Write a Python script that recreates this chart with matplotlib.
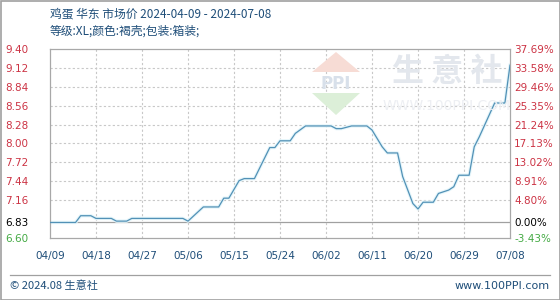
import matplotlib
matplotlib.use("Agg")
import matplotlib.pyplot as plt
import pandas as pd
from matplotlib.patches import Polygon, Rectangle

plt.rcParams['font.family'] = ['Noto Sans CJK SC', 'DejaVu Sans']

# ---- data ----
title = "鸡蛋 华东 市场价 2024-04-09 - 2024-07-08"
subtitle = "等级:XL;颜色:褐壳;包装:箱装;"
dates = ["2024-04-09", "2024-04-14", "2024-04-15", "2024-04-17", "2024-04-18",
         "2024-04-21", "2024-04-22", "2024-04-24", "2024-04-25", "2024-05-05",
         "2024-05-06", "2024-05-09", "2024-05-12", "2024-05-13", "2024-05-14",
         "2024-05-16", "2024-05-17", "2024-05-19", "2024-05-22", "2024-05-23",
         "2024-05-24", "2024-05-26", "2024-05-27", "2024-05-29", "2024-06-03",
         "2024-06-04", "2024-06-05", "2024-06-07", "2024-06-10", "2024-06-11",
         "2024-06-13", "2024-06-14", "2024-06-16", "2024-06-17", "2024-06-19",
         "2024-06-20", "2024-06-21", "2024-06-23", "2024-06-24", "2024-06-26",
         "2024-06-27", "2024-06-28", "2024-06-30", "2024-07-01", "2024-07-02",
         "2024-07-05", "2024-07-07", "2024-07-08"]
prices = [6.83, 6.83, 6.93, 6.93, 6.89,
          6.89, 6.85, 6.85, 6.89, 6.89,
          6.85, 7.06, 7.06, 7.19, 7.19,
          7.45, 7.48, 7.48, 7.94, 7.94,
          8.04, 8.04, 8.15, 8.26, 8.26,
          8.22, 8.22, 8.26, 8.26, 8.20,
          7.95, 7.86, 7.86, 7.51, 7.11,
          7.03, 7.13, 7.13, 7.26, 7.31,
          7.36, 7.53, 7.53, 7.95, 8.10,
          8.60, 8.60, 9.16]
left_ticks = [6.60, 6.83, 7.16, 7.44, 7.72, 8.00, 8.28, 8.56, 8.84, 9.12, 9.40]
right_labels = ["-3.43%", "0.00%", "4.80%", "8.91%", "13.02%", "17.13%",
                "21.24%", "25.35%", "29.46%", "33.58%", "37.69%"]
x_ticks = ["2024-04-09", "2024-04-18", "2024-04-27", "2024-05-06", "2024-05-15",
           "2024-05-24", "2024-06-02", "2024-06-11", "2024-06-20", "2024-06-29",
           "2024-07-08"]

# ---- style ----
red = "#cc3344"
green = "#44aa44"
navy = "#1f4e79"
gridc = "#c8c8c8"

fig = plt.figure(figsize=(5.6, 3.0), dpi=100)
fig.patch.set_facecolor("white")
ax = fig.add_axes([50/560, 1-238/300, 460/560, 189/300])

xd = pd.to_datetime(dates)
xt = pd.to_datetime(x_ticks)

# watermark
wm = dict(transform=fig.transFigure, zorder=0)
fig.patches.append(Polygon([[312/560, 1-72/300], [360/560, 1-72/300], [336/560, 1-52/300]],
                           closed=True, facecolor="#f7dcd5", edgecolor="none", **wm))
fig.patches.append(Polygon([[312/560, 1-93/300], [360/560, 1-93/300], [336/560, 1-115/300]],
                           closed=True, facecolor="#dcefd8", edgecolor="none", **wm))
fig.text(336/560, 1-84/300, "PPI", ha="center", va="center", fontsize=12,
         fontweight="bold", color="#d8e0ea", family="DejaVu Sans", zorder=0)
fig.text(447/560, 1-72/300, "生 意 社", ha="center", va="center", fontsize=23,
         color="#e3e7ed", fontweight="bold", zorder=0)
fig.text(447/560, 1-106/300, "WWW.100PPI.COM", ha="center", va="center", fontsize=10,
         color="#edeff3", family="DejaVu Sans", zorder=0)
ax.set_facecolor("none")

ax.plot(xd, prices, color="#e4f5fa", lw=2.4, zorder=2, solid_joinstyle="round")
ax.plot(xd, prices, color="#5291b6", lw=0.9, zorder=3)

ax.set_xlim(xt[0], xt[-1])
ax.set_ylim(6.60, 9.40)
ax.set_yticks(left_ticks)
ax.set_yticklabels([f"{v:.2f}" for v in left_ticks], family="DejaVu Sans", fontsize=7.5)
for lbl, v in zip(ax.get_yticklabels(), left_ticks):
    lbl.set_color(green if v < 6.83 else ("black" if v == 6.83 else red))
ax.tick_params(axis="y", length=0, pad=15.5)

ax.set_xticks(xt)
ax.set_xticklabels([d.strftime("%m/%d") for d in xt], family="DejaVu Sans",
                   fontsize=7.5, color=navy)
ax.tick_params(axis="x", length=0, pad=9)

for v in left_ticks[2:-1]:
    ax.axhline(v, color=gridc, lw=0.8, ls=(0, (2, 2)), zorder=1)
ax.axhline(6.83, color="#a0a0a0", lw=0.9, zorder=1)
for d in xt[1:-1]:
    ax.axvline(d, color=gridc, lw=0.8, ls=(0, (2, 2)), zorder=1)

for s in ax.spines.values():
    s.set_color("#a8a8a8")
    s.set_linewidth(0.9)

ax2 = ax.twinx()
ax2.set_ylim(6.60, 9.40)
ax2.set_yticks(left_ticks)
ax2.set_yticklabels(right_labels, family="DejaVu Sans", fontsize=7.5)
for lbl, v in zip(ax2.get_yticklabels(), left_ticks):
    lbl.set_color(green if v < 6.83 else ("black" if v == 6.83 else red))
ax2.tick_params(axis="y", length=0, pad=3)
for s in ax2.spines.values():
    s.set_visible(False)

# titles
fig.text(50/560, 1-14/300, title, fontsize=8.5, color=navy, va="center", ha="left")
fig.text(50/560, 1-31/300, subtitle, fontsize=8.5, color=navy, va="center", ha="left")

# footer
fig.add_artist(plt.Line2D([10/560, 550/560], [1-275/300, 1-275/300],
                          transform=fig.transFigure, color="#a0a0a0", lw=0.9))
fig.text(10/560, 1-286/300, "© 2024.08 生意社", fontsize=8, color=navy,
         va="center", ha="left")
fig.text(550/560, 1-286/300, "www.100PPI.com", fontsize=8, color=navy,
         va="center", ha="right", family="DejaVu Sans")
fig.patches.append(Rectangle((0.5/560, 0.5/300), 559/560, 299/300, transform=fig.transFigure,
                             fill=False, edgecolor="#a0a0a0", lw=1.2))

fig.savefig("out.png", dpi=100)
